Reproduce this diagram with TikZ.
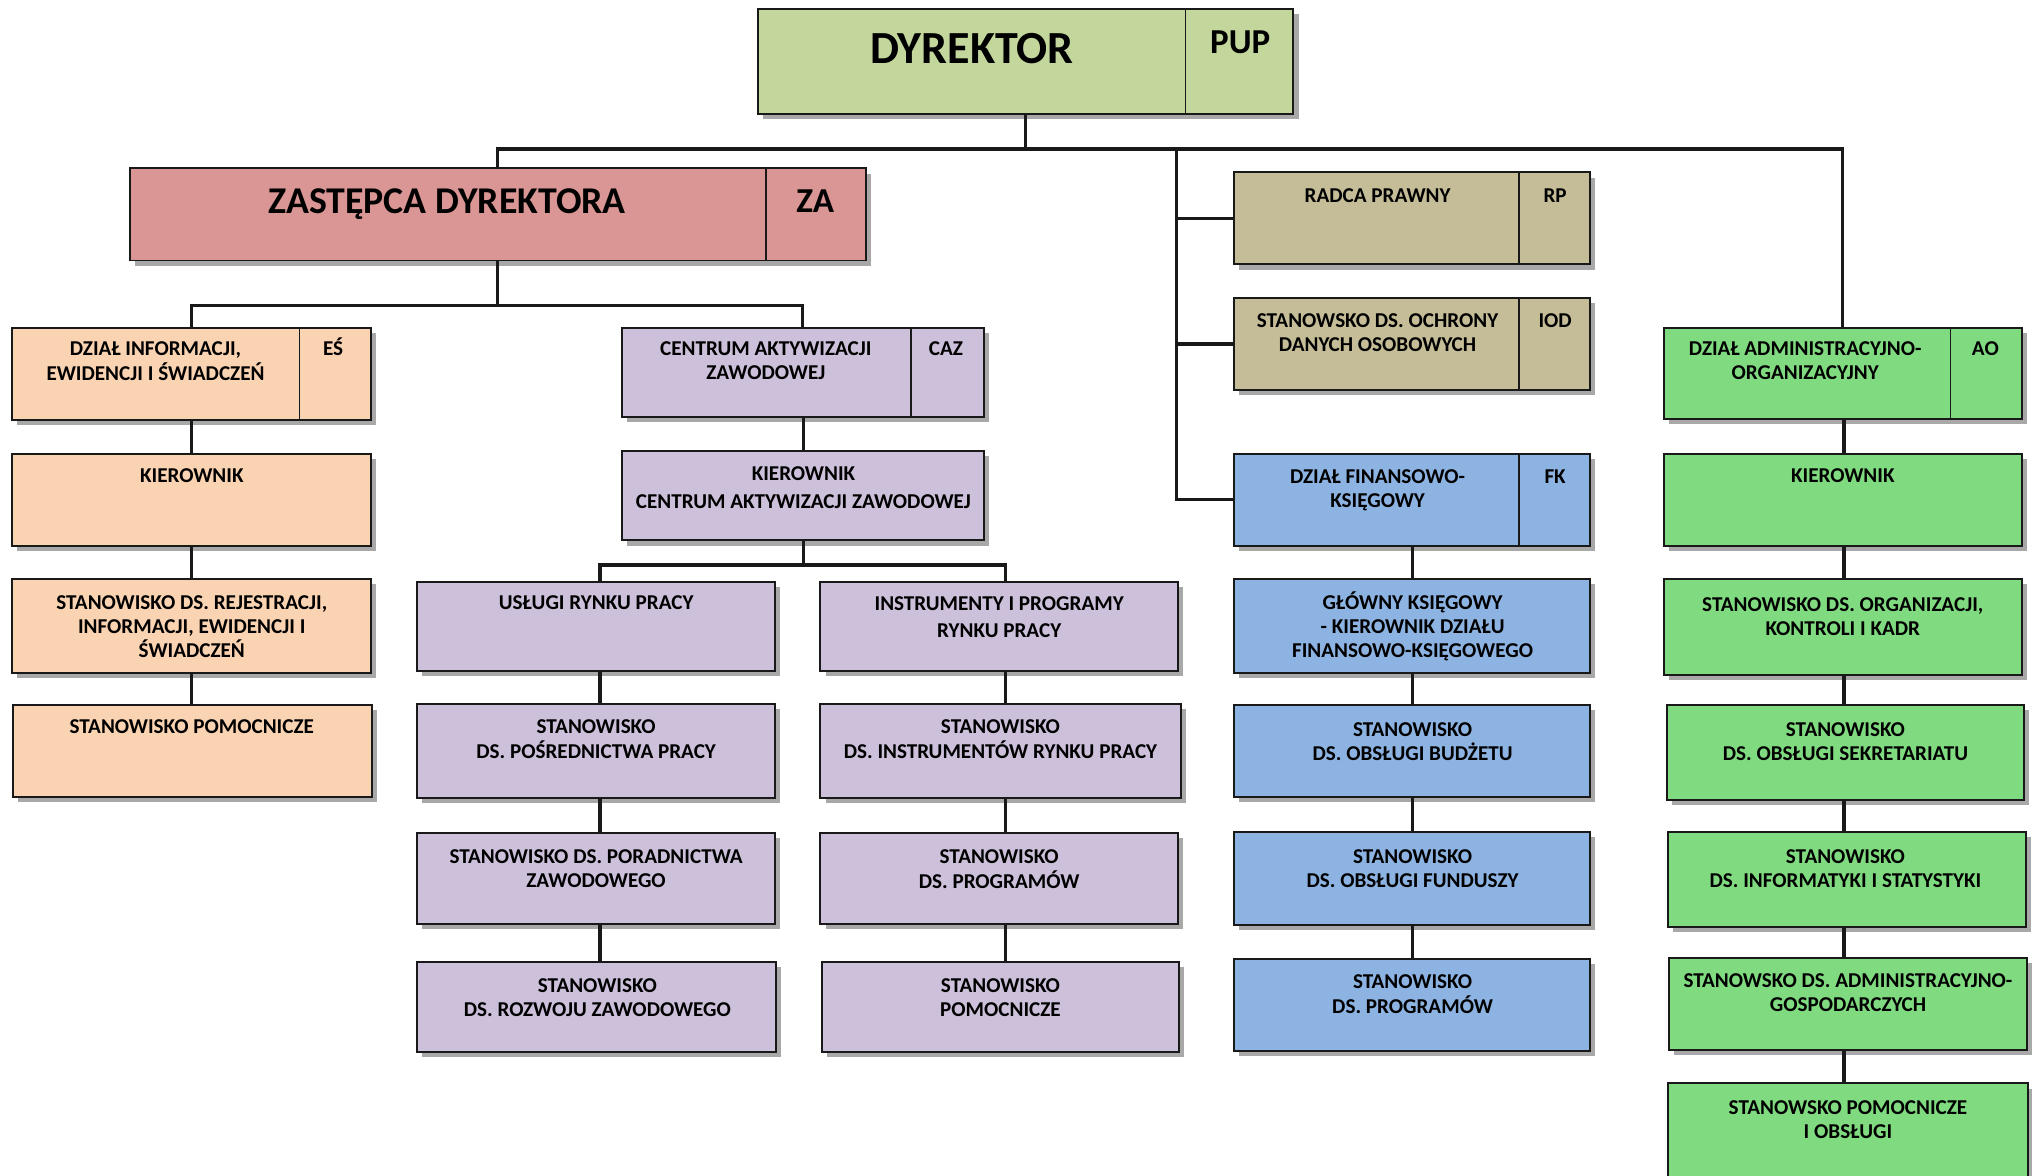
\documentclass[tikz,border=0pt]{standalone}
\usepackage{fontspec}
\setmainfont{Carlito}
\usetikzlibrary{shadows}
\definecolor{cdyr}{HTML}{C3D69B}
\definecolor{cza}{HTML}{D99694}
\definecolor{ces}{HTML}{FAD3B2}
\definecolor{ccaz}{HTML}{CCC0DA}
\definecolor{crp}{HTML}{C4BD97}
\definecolor{cfk}{HTML}{8DB3E2}
\definecolor{cao}{HTML}{80DB80}
\tikzset{
  box/.style={draw=black!90,line width=1.5pt,inner sep=0pt,outer sep=0pt,anchor=north west,
    drop shadow={shadow xshift=4pt,shadow yshift=-4pt,fill=black!40,opacity=.85}},
  txt/.style={inner sep=0pt,outer sep=0pt,anchor=base,font=\fontsize{16.3}{18.5}\selectfont\bfseries},
  conn/.style={line width=2.5pt,black!90},
  divline/.style={line width=1.1pt,black!90}
}
\newcommand\obox[6]{\node[box,fill=#6,minimum width={(#4-#2)*1pt},minimum height={(#5-#3)*1pt}] (#1) at (#2,#3) {};}
\newcommand\otxt[4]{\node[txt] (#1) at (#2,#3+6) {\begin{tabular}[t]{@{}c@{}}#4\end{tabular}};}
\newcommand\odiv[3]{\draw[divline] (#1,#2) -- (#1,#3);}
\newcommand\ochain[3]{\draw[conn] (#2.south -| #1) -- (#3.north -| #1);}
\begin{document}
\begin{tikzpicture}[x=1pt,y=-1pt]
\fill[white] (0,0) rectangle (1568,907);
\useasboundingbox (0,0) rectangle (1568,907);

% coordinates
\coordinate (v) at (908,115);
\coordinate (zb) at (384,236);
\coordinate (cb) at (620,436);
\coordinate (c1) at (148,0);
\coordinate (c2) at (463,0);
\coordinate (c3) at (776,0);
\coordinate (c4) at (1090,0);
\coordinate (c5) at (1423,0);
\coordinate (cc) at (620,0);

% boxes
\obox{dyr}{585}{7}{998}{88}{cdyr}
\odiv{915}{7}{88}
\node[txt,font=\fontsize{35.5}{38}\selectfont\bfseries] (t-dyr) at (750,37+12) {DYREKTOR};
\node[txt,font=\fontsize{27}{30}\selectfont\bfseries] (t-pup) at (957,32+9.2) {PUP};

\obox{za}{100}{130}{668}{201}{cza}
\odiv{591}{130}{201}
\node[txt,font=\fontsize{29.2}{32}\selectfont\bfseries] (t-za) at (345,155+10) {ZASTĘPCA DYREKTORA};
\node[txt,font=\fontsize{27}{30}\selectfont\bfseries] (t-zat) at (629,155+9.2) {ZA};

\obox{es}{9}{253}{286}{324}{ces}
\odiv{231}{253}{324}
\otxt{t-es}{120}{268}{DZIAŁ INFORMACJI,\\EWIDENCJI I ŚWIADCZEŃ}
\otxt{t-est}{257}{268}{EŚ}
\obox{esk}{9}{350}{286}{421}{ces}
\otxt{t-esk}{148}{366}{KIEROWNIK}
\obox{esr}{9}{447}{286}{519}{ces}
\otxt{t-esr}{148}{464}{STANOWISKO DS. REJESTRACJI,\\INFORMACJI, EWIDENCJI I\\ŚWIADCZEŃ}
\obox{esp}{10}{544}{287}{615}{ces}
\otxt{t-esp}{148}{560}{STANOWISKO POMOCNICZE}

\obox{caz}{480}{253}{759}{322}{ccaz}
\odiv{703}{253}{322}
\otxt{t-caz}{591}{268}{CENTRUM AKTYWIZACJI\\ZAWODOWEJ}
\otxt{t-cazt}{730}{268}{CAZ}
\obox{cazk}{480}{348}{759}{417}{ccaz}
\otxt{t-cazk}{620}{365}{KIEROWNIK\\[2.5pt]CENTRUM AKTYWIZACJI ZAWODOWEJ}
\obox{urp}{322}{449}{598}{518}{ccaz}
\otxt{t-urp}{460}{464}{USŁUGI RYNKU PRACY}
\obox{irp}{633}{449}{909}{518}{ccaz}
\otxt{t-irp}{771}{465}{INSTRUMENTY I PROGRAMY\\[2.5pt]RYNKU PRACY}
\obox{ppr}{322}{543}{598}{616}{ccaz}
\otxt{t-ppr}{460}{560}{STANOWISKO\\DS. POŚREDNICTWA PRACY}
\obox{irpr}{633}{543}{911}{616}{ccaz}
\otxt{t-irpr}{772}{560}{STANOWISKO\\DS. INSTRUMENTÓW RYNKU PRACY}
\obox{por}{322}{643}{598}{713}{ccaz}
\otxt{t-por}{460}{660}{STANOWISKO DS. PORADNICTWA\\ZAWODOWEGO}
\obox{prg1}{633}{643}{909}{713}{ccaz}
\otxt{t-prg1}{771}{660}{STANOWISKO\\DS. PROGRAMÓW}
\obox{roz}{322}{742}{599}{812}{ccaz}
\otxt{t-roz}{461}{760}{STANOWISKO\\DS. ROZWOJU ZAWODOWEGO}
\obox{pom2}{634}{742}{910}{812}{ccaz}
\otxt{t-pom2}{772}{760}{STANOWISKO\\POMOCNICZE}

\obox{rp}{952}{133}{1227}{204}{crp}
\odiv{1172}{133}{204}
\otxt{t-rp}{1063}{150}{RADCA PRAWNY}
\otxt{t-rpt}{1200}{150}{RP}
\obox{iod}{952}{230}{1227}{301}{crp}
\odiv{1172}{230}{301}
\otxt{t-iod}{1063}{247}{STANOWSKO DS. OCHRONY\\DANYCH OSOBOWYCH}
\otxt{t-iodt}{1200}{247}{IOD}
\obox{fk}{952}{350}{1227}{421}{cfk}
\odiv{1172}{350}{421}
\otxt{t-fk}{1063}{367}{DZIAŁ FINANSOWO-\\KSIĘGOWY}
\otxt{t-fkt}{1200}{367}{FK}
\obox{gk}{952}{447}{1227}{519}{cfk}
\otxt{t-gk}{1090}{464}{GŁÓWNY KSIĘGOWY\\- KIEROWNIK DZIAŁU\\FINANSOWO-KSIĘGOWEGO}
\obox{bud}{952}{544}{1227}{615}{cfk}
\otxt{t-bud}{1090}{562}{STANOWISKO\\DS. OBSŁUGI BUDŻETU}
\obox{fun}{952}{642}{1227}{714}{cfk}
\otxt{t-fun}{1090}{660}{STANOWISKO\\DS. OBSŁUGI FUNDUSZY}
\obox{prg2}{952}{740}{1227}{811}{cfk}
\otxt{t-prg2}{1090}{757}{STANOWISKO\\DS. PROGRAMÓW}

\obox{ao}{1284}{253}{1560}{323}{cao}
\odiv{1505}{253}{323}
\otxt{t-ao}{1393}{268}{DZIAŁ ADMINISTRACYJNO-\\ORGANIZACYJNY}
\otxt{t-aot}{1532}{268}{AO}
\obox{aok}{1284}{350}{1560}{421}{cao}
\otxt{t-aok}{1422}{366}{KIEROWNIK}
\obox{org}{1284}{447}{1560}{521}{cao}
\otxt{t-org}{1422}{466}{STANOWISKO DS. ORGANIZACJI,\\KONTROLI I KADR}
\obox{sek}{1286}{544}{1562}{617}{cao}
\otxt{t-sek}{1424}{562}{STANOWISKO\\DS. OBSŁUGI SEKRETARIATU}
\obox{inf}{1287}{642}{1563}{715}{cao}
\otxt{t-inf}{1424}{660}{STANOWISKO\\DS. INFORMATYKI I STATYSTYKI}
\obox{adm}{1288}{739}{1564}{810}{cao}
\otxt{t-adm}{1426}{756}{STANOWSKO DS. ADMINISTRACYJNO-\\GOSPODARCZYCH}
\obox{pob}{1287}{836}{1565}{935}{cao}
\otxt{t-pob}{1426}{854}{STANOWSKO POMOCNICZE\\I OBSŁUGI}

% connectors
\draw[conn] (dyr.south) -- (dyr.south |- v);
\draw[conn] (za.north) |- (v) -| (ao.north);
\draw[conn] (v) |- (fk.west);
\draw[conn] (v |- rp.west) -- (rp.west);
\draw[conn] (v |- iod.west) -- (iod.west);

\draw[conn] (za.south) -- (zb);
\draw[conn] (es.north) |- (zb) -| (caz.north);
\ochain{c1}{es}{esk}
\ochain{c1}{esk}{esr}
\ochain{c1}{esr}{esp}

\ochain{cc}{caz}{cazk}
\draw[conn] (cazk.south -| cc) -- (cb);
\draw[conn] (urp.north -| c2) |- (cb) -| (irp.north -| c3);
\ochain{c2}{urp}{ppr}
\ochain{c2}{ppr}{por}
\ochain{c2}{por}{roz}
\ochain{c3}{irp}{irpr}
\ochain{c3}{irpr}{prg1}
\ochain{c3}{prg1}{pom2}

\ochain{c4}{fk}{gk}
\ochain{c4}{gk}{bud}
\ochain{c4}{bud}{fun}
\ochain{c4}{fun}{prg2}

\ochain{c5}{ao}{aok}
\ochain{c5}{aok}{org}
\ochain{c5}{org}{sek}
\ochain{c5}{sek}{inf}
\ochain{c5}{inf}{adm}
\ochain{c5}{adm}{pob}
\end{tikzpicture}
\end{document}
